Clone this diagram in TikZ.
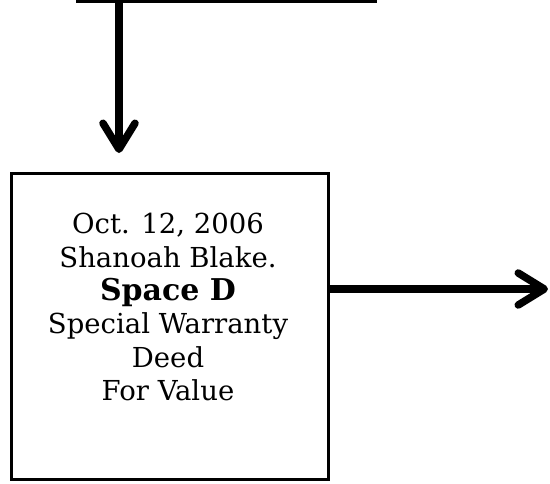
\documentclass[tikz,border=0pt]{standalone}
\usepackage{fontspec}
\setmainfont{DejaVu Serif}
\usetikzlibrary{arrows.meta}
\begin{document}
\begin{tikzpicture}[x=1pt,y=-1pt,
  boxstyle/.style={draw, line width=3pt, inner sep=0pt},
  flow/.style={line width=7.5pt, -{Straight Barb[length=26pt,width=32pt,round]}},
]
\useasboundingbox (0,0) rectangle (550,483);
\clip (0,0) rectangle (550,483);
\node[boxstyle, minimum width=298pt, minimum height=60pt, anchor=south west] (top) at (76,3) {};
\node[boxstyle, minimum width=317pt, minimum height=306pt, anchor=north west] (d) at (10,172) {};
\node[align=center, inner sep=0pt, font=\fontsize{27.5}{33.4}\selectfont, anchor=north] (dtext) at (168,213) {Oct. 12, 2006\\Shanoah Blake.\\{\fontsize{30}{33.4}\selectfont\bfseries Space D}\\Special Warranty\\Deed\\For Value};
\coordinate (vx) at (119,0);
\coordinate (vend) at (119,153);
\coordinate (ry) at (0,289);
\coordinate (rend) at (548,289);
\draw[flow] (top.south -| vx) -- (vend);
\draw[flow] (d.east |- ry) -- (rend);
\end{tikzpicture}
\end{document}
